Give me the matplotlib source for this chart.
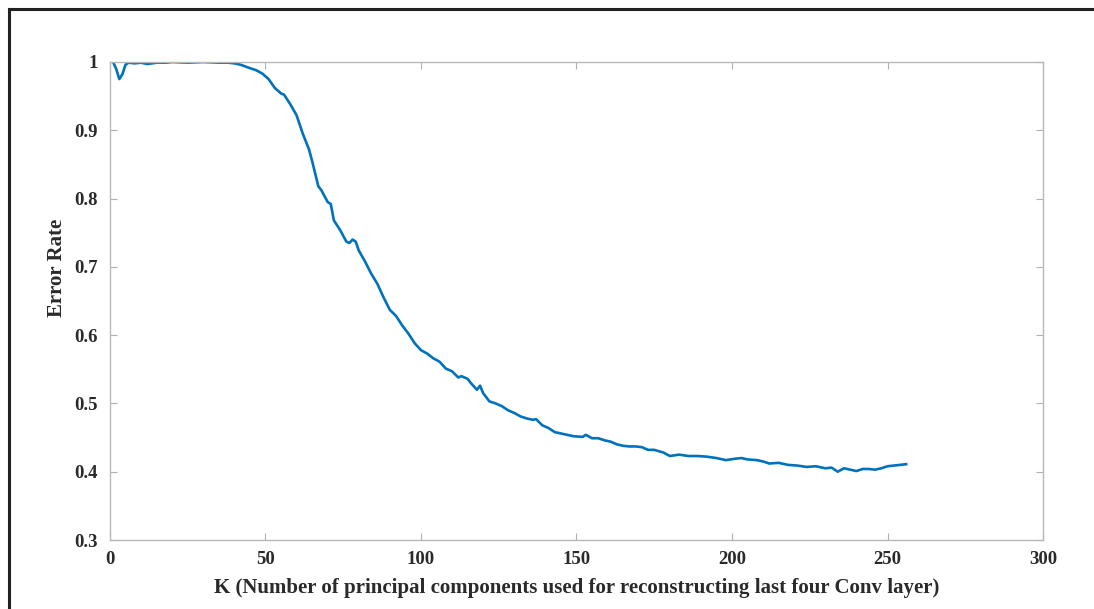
import matplotlib
matplotlib.use("Agg")
import matplotlib.pyplot as plt
from matplotlib.lines import Line2D

# values
k_vals = [1, 2, 3, 4, 5, 6, 8, 10, 12, 15, 18, 20, 25, 30, 35, 38, 40, 42, 45, 47,
          49, 51, 53, 55, 56, 58, 60, 62, 64, 65, 67, 68, 70, 71, 72, 74, 76, 77,
          78, 79, 80, 82, 84, 86, 88, 90, 92, 94, 96, 98, 100, 102, 104, 106, 108,
          110, 112, 113, 115, 116, 118, 119, 120, 122, 124, 126, 128, 130, 132, 134,
          136, 137, 139, 141, 143, 146, 149, 152, 153, 155, 157, 159, 161, 163, 165,
          167, 169, 171, 173, 175, 178, 180, 183, 186, 189, 192, 195, 198, 201, 203,
          205, 208, 210, 212, 215, 218, 221, 224, 227, 230, 232, 234, 236, 238, 240,
          242, 244, 246, 248, 250, 252, 254, 256]
err_vals = [1.0, 0.99, 0.975, 0.982, 0.996, 0.999, 0.998, 0.999, 0.997, 0.999, 0.999,
            1.0, 0.999, 1.0, 0.999, 0.999, 0.998, 0.996, 0.991, 0.988,
            0.983, 0.975, 0.962, 0.954, 0.952, 0.938, 0.922, 0.895, 0.872, 0.855, 0.818, 0.812,
            0.795, 0.792, 0.768, 0.754, 0.737, 0.735, 0.74, 0.737, 0.724, 0.708, 0.69, 0.675,
            0.655, 0.637, 0.628, 0.614, 0.602, 0.588, 0.578, 0.573, 0.566, 0.561, 0.551,
            0.547, 0.538, 0.54, 0.536, 0.53, 0.52, 0.526, 0.515, 0.503, 0.5, 0.496, 0.49, 0.486,
            0.481, 0.478, 0.476, 0.477, 0.468, 0.464, 0.458, 0.455, 0.452, 0.451, 0.454, 0.449,
            0.449, 0.446, 0.444, 0.44, 0.438, 0.437, 0.437, 0.436, 0.432, 0.432, 0.428,
            0.423, 0.425, 0.423, 0.423, 0.422, 0.42, 0.417, 0.419, 0.42, 0.418, 0.417,
            0.415, 0.412, 0.413, 0.41, 0.409, 0.407, 0.408, 0.405, 0.406, 0.4, 0.405, 0.403,
            0.401, 0.404, 0.404, 0.403, 0.405, 0.408, 0.409, 0.41, 0.411]

x_ticks = [0, 50, 100, 150, 200, 250, 300]
y_ticks = [0.3, 0.4, 0.5, 0.6, 0.7, 0.8, 0.9, 1.0]
y_ticklabels = ["0.3", "0.4", "0.5", "0.6", "0.7", "0.8", "0.9", "1"]

plt.rcParams["font.family"] = ["Liberation Serif", "DejaVu Serif"]
plt.rcParams["font.weight"] = "bold"

fig = plt.figure(figsize=(10.94, 6.09), dpi=100)
ax = fig.add_axes([0.1005, 0.1133, 0.8529, 0.7849])

ax.plot(k_vals, err_vals, color="#0072BD", lw=1.9)

ax.set_xlim(0, 300)
ax.set_ylim(0.3, 1.0)
ax.set_xticks(x_ticks)
ax.set_yticks(y_ticks)
ax.set_yticklabels(y_ticklabels)
ax.tick_params(direction="in", length=5, width=0.8, color="#b0b0b0",
               labelcolor="#2a2a2a", labelsize=13.5, top=True, right=True)
ax.tick_params(axis="x", pad=8)
ax.tick_params(axis="y", pad=9)
for s in ax.spines.values():
    s.set_color("#b8b8b8")
    s.set_linewidth(1.0)

ax.set_xlabel("K (Number of principal components used for reconstructing last four Conv layer)",
              fontsize=15, fontweight="bold", color="#2a2a2a", labelpad=7)
ax.set_ylabel("Error Rate", fontsize=15, fontweight="bold", color="#2a2a2a")
ax.yaxis.set_label_coords(-0.046, 0.569)

# outer frame lines (top and left)
fig.add_artist(Line2D([9 / 1094, 1.0], [1 - 9 / 609, 1 - 9 / 609], color="#222222", lw=2.2))
fig.add_artist(Line2D([9 / 1094, 9 / 1094], [0, 1 - 9 / 609], color="#222222", lw=2.2))

fig.savefig("out.png", dpi=100)
